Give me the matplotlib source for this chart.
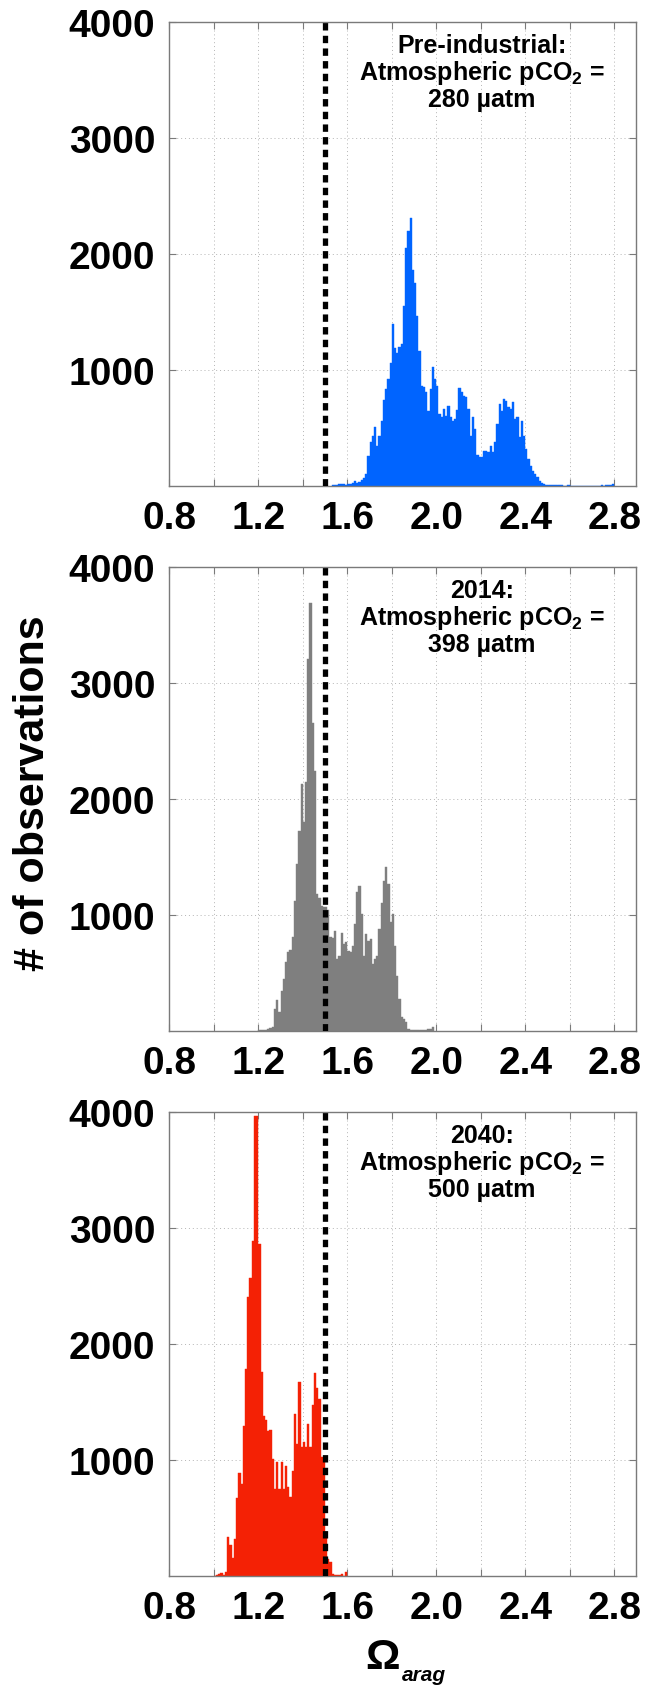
import numpy as np
import matplotlib
matplotlib.use("Agg")
import matplotlib.pyplot as plt

plt.rcParams['font.family'] = ['Liberation Sans', 'DejaVu Sans']
plt.rcParams['font.weight'] = 'bold'
plt.rcParams['mathtext.fontset'] = 'custom'
plt.rcParams['mathtext.rm'] = 'Liberation Sans:bold'
plt.rcParams['mathtext.bf'] = 'Liberation Sans:bold'
plt.rcParams['mathtext.it'] = 'Liberation Sans:bold:italic'

# ---- data (histogram counts, bin width 0.01) ----
bin_width = 0.01

pre_start = 1.53
pre_counts = [8, 10, 12, 15, 15, 20, 12, 18, 20, 25, 45, 30, 35, 50, 70,
              105, 258, 384, 430, 513, 350, 435, 564, 742, 837, 923, 1060, 1395, 1186, 1146,
              1195, 1223, 1553, 2049, 2198, 2312, 1860, 1748, 1467, 1166, 865, 851, 814, 650,
              837, 1023, 923, 865, 622, 593, 665, 607, 693, 593, 564, 579, 659, 843, 808, 779,
              765, 665, 435, 593, 493, 269, 249, 249, 307, 307, 292, 350, 292, 378, 536, 708,
              650, 751, 736, 679, 665, 722, 579, 593, 421, 564, 430, 321, 235, 178, 135, 106,
              77, 49, 29, 20,
              14, 12, 12, 10, 10, 8, 8, 8, 6, 6, 8, 6, 6, 5, 6, 5, 5, 6, 5, 5, 6, 4, 5, 5, 6,
              8, 6, 8, 10, 12, 20]

now_start = 1.20
now_counts = [10, 15, 15, 15, 20, 25,
              34, 192, 272, 163, 350, 450, 593, 685, 702, 808, 1123, 1438, 1725, 2130, 1802,
              2150, 3208, 3686, 2651, 2245, 1180, 1150, 1080, 1070, 1066, 1046,
              808, 800, 865, 622, 650, 845, 751, 765, 693, 679, 736, 921, 1198, 1250, 1007,
              650, 835, 778, 792, 578, 622, 650, 878, 1101, 1293, 1417, 1264, 937, 1007, 736,
              479, 278, 120, 106, 77, 20,
              15, 12, 12, 10, 10, 12, 12, 15, 18, 20, 34]

fut_start = 1.00
fut_counts = [5, 8, 20, 29, 12, 40, 335, 269, 160, 321, 670, 888, 794, 1295, 1782, 2406,
              2569, 2891, 3963, 3963, 2857, 1762, 1381, 1347, 1252, 1258, 1009, 751, 980, 751,
              980, 751, 951, 765, 679, 908, 1395, 1138, 1673, 1117, 1152, 1109, 1309, 1117,
              1473, 1754, 1625, 1524, 1023, 1009, 378, 149, 120, 20, 12, 12, 12, 20, 6, 40]

labels = ['Pre-industrial:\nAtmospheric pCO$_\\mathrm{2}$ =\n280 \u00b5atm',
          '2014:\nAtmospheric pCO$_\\mathrm{2}$ =\n398 \u00b5atm',
          '2040:\nAtmospheric pCO$_\\mathrm{2}$ =\n500 \u00b5atm']
colors = ['#0064FF', '#7F7F7F', '#F42105']
threshold = 1.5

xticks = [0.8, 1.0, 1.2, 1.4, 1.6, 1.8, 2.0, 2.2, 2.4, 2.6, 2.8]
xticklabels = ['0.8', '', '1.2', '', '1.6', '', '2.0', '', '2.4', '', '2.8']
yticks = [1000, 2000, 3000, 4000]

# ---- plot ----
fig = plt.figure(figsize=(6.47, 16.9), dpi=100)
bottoms = [0.7117, 0.3892, 0.0667]
starts = [pre_start, now_start, fut_start]
all_counts = [pre_counts, now_counts, fut_counts]

for i in range(3):
    ax = fig.add_axes([0.2617, bottoms[i], 0.722, 0.2749])
    c = np.array(all_counts[i])
    edges = starts[i] + bin_width * np.arange(len(c))
    ax.bar(edges, c, width=bin_width, align='edge', color=colors[i],
           edgecolor=colors[i], linewidth=0.3, zorder=2)
    ax.axvline(threshold, color='k', lw=3.8, linestyle=(0, (1.4, 1.0)), zorder=3)
    ax.set_xlim(0.8, 2.9)
    ax.set_ylim(0, 4000)
    ax.set_xticks(xticks)
    ax.set_xticklabels(xticklabels)
    ax.set_yticks(yticks)
    ax.grid(True, linestyle=(0, (1, 3)), color='#B4B4B4', lw=0.7, zorder=0)
    ax.set_axisbelow(True)
    for s in ax.spines.values():
        s.set_color('#7A7A7A')
        s.set_linewidth(1.0)
    ax.tick_params(direction='in', top=True, right=True, length=5, width=0.8,
                   color='#7A7A7A', labelsize=28, pad=10)
    for t in ax.get_xticklabels() + ax.get_yticklabels():
        t.set_fontweight('bold')
    ax.text(0.669, 0.975, labels[i], transform=ax.transAxes, ha='center', va='top',
            fontsize=18, fontweight='bold', linespacing=1.05)

fig.text(0.051, 0.5308, '# of observations', rotation=90, ha='center', va='center',
         fontsize=31, fontweight='bold')
fig.text(0.591, 1 - 1669 / 1690, '\u03a9', ha='center', va='baseline',
         fontsize=31, fontweight='bold')
fig.text(0.621, 1 - 1681 / 1690, 'arag', ha='left', va='baseline',
         fontsize=15, fontweight='bold', style='italic')

fig.savefig('out.png', dpi=100)
